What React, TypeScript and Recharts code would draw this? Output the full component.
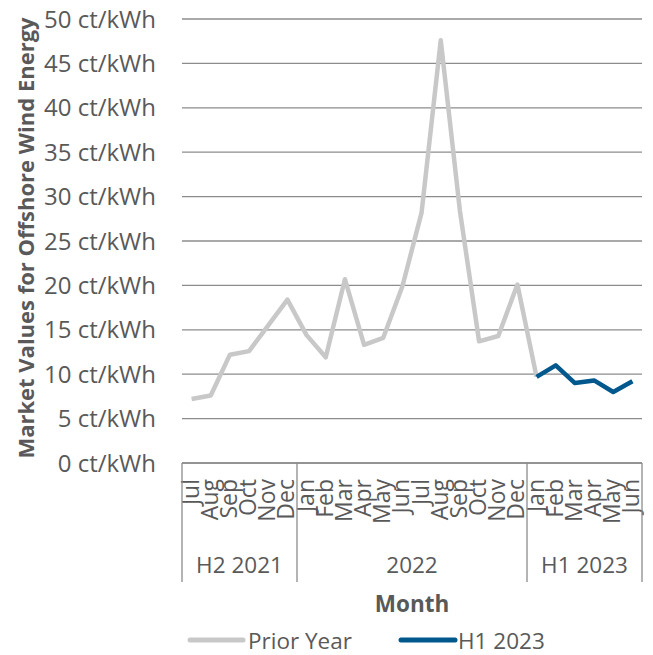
import React from 'react';
import { LineChart, Line, XAxis, YAxis, CartesianGrid, Legend } from 'recharts';

const months = [
  'Jul', 'Aug', 'Sep', 'Oct', 'Nov', 'Dec',
  'Jan', 'Feb', 'Mar', 'Apr', 'May', 'Jun', 'Jul', 'Aug', 'Sep', 'Oct', 'Nov', 'Dec',
  'Jan', 'Feb', 'Mar', 'Apr', 'May', 'Jun',
];
const groupLabels = ['H2 2021', '2022', 'H1 2023'];
const groupSizes = [6, 12, 6];

// ct/kWh
const priorYear = [
  7.2, 7.6, 12.2, 12.6, 15.5, 18.4,
  14.4, 11.9, 20.7, 13.3, 14.1, 19.9, 28.2, 47.6, 28.4, 13.7, 14.3, 20.1,
  9.7, null, null, null, null, null,
];
const h1Year = [
  null, null, null, null, null, null,
  null, null, null, null, null, null, null, null, null, null, null, null,
  9.7, 11.0, 9.0, 9.3, 8.0, 9.2,
];
const yTicks = [0, 5, 10, 15, 20, 25, 30, 35, 40, 45, 50];

const groupOf: number[] = [];
const groupStart: number[] = [];
groupSizes.forEach((n, g) => {
  groupStart.push(groupOf.length);
  for (let k = 0; k < n; k++) groupOf.push(g);
});

const data = months.map((m, i) => ({
  key: `${groupLabels[groupOf[i]]}-${m}`,
  month: m,
  prior: priorYear[i],
  h1: h1Year[i],
}));

const FONT = '"Open Sans", sans-serif';
const TEXT = '#595959';
const GRID = '#8c8c8c';
const GRAY = '#c8c8c8';
const BLUE = '#01588d';

const W = 645;
const H = 655;
const PLOT_W = 460;
const BAND = PLOT_W / months.length;

const MonthTick = (props: any) => {
  const { x, y, index } = props;
  const half = BAND / 2;
  const g = groupOf[index];
  const isStart = groupStart[g] === index;
  const isLast = index === months.length - 1;
  return (
    <g>
      <g transform={`translate(${x + 7},${y + 16}) rotate(-90)`}>
        <text textAnchor="end" fill={TEXT} fontSize={23} fontFamily={FONT}>
          {months[index]}
        </text>
      </g>
      {isStart && (
        <>
          <line x1={x - half} x2={x - half} y1={y} y2={y + 119} stroke={GRID} strokeWidth={1.3} />
          <text
            x={x - half + (groupSizes[g] * BAND) / 2}
            y={y + 101}
            textAnchor="middle"
            dominantBaseline="central"
            fill={TEXT}
            fontSize={22.5}
            fontFamily={FONT}
          >
            {groupLabels[g]}
          </text>
        </>
      )}
      {isLast && <line x1={x + half} x2={x + half} y1={y} y2={y + 119} stroke={GRID} strokeWidth={1.3} />}
    </g>
  );
};

const YTitle = () => (
  <text
    transform="translate(17,238) rotate(-90)"
    textAnchor="middle"
    dominantBaseline="central"
    fill={TEXT}
    fontSize={22}
    fontWeight="bold"
    fontFamily={FONT}
  >
    Market Values for Offshore Wind Energy
  </text>
);

const LegendContent = () => (
  <svg width={W} height={30}>
    <line x1={182} x2={235} y1={15} y2={15} stroke={GRAY} strokeWidth={5} strokeLinecap="round" />
    <text x={240} y={15} dominantBaseline="central" fill={TEXT} fontSize={22.5} fontFamily={FONT}>
      Prior Year
    </text>
    <line x1={393} x2={447} y1={15} y2={15} stroke={BLUE} strokeWidth={5} strokeLinecap="round" />
    <text x={450} y={15} dominantBaseline="central" fill={TEXT} fontSize={22.5} fontFamily={FONT}>
      H1 2023
    </text>
  </svg>
);

export default function App() {
  return (
    <div style={{ width: W, height: H, marginTop: -8, fontFamily: FONT }}>
      <LineChart width={W} height={H} data={data} margin={{ top: 19, right: 11, left: 0, bottom: 0 }}>
        <CartesianGrid vertical={false} stroke={GRID} strokeWidth={1.3} />
        <XAxis
          dataKey="key"
          interval={0}
          height={162}
          padding={{ left: BAND / 2, right: BAND / 2 }}
          tickLine={false}
          tickSize={0}
          tickMargin={0}
          axisLine={{ stroke: GRID, strokeWidth: 1.3 }}
          tick={<MonthTick />}
          label={{
            value: 'Month',
            position: 'insideBottom',
            offset: 13,
            fill: TEXT,
            fontSize: 22.5,
            fontWeight: 'bold',
            fontFamily: FONT,
          }}
        />
        <YAxis
          width={174}
          domain={[0, 50]}
          ticks={yTicks}
          axisLine={false}
          tickLine={false}
          tickMargin={20}
          tickFormatter={(v: number) => `${v} ct/kWh`}
          tick={{ fill: TEXT, fontSize: 24, fontFamily: FONT }}
          label={<YTitle />}
        />
        <Legend verticalAlign="bottom" height={30} content={<LegendContent />} wrapperStyle={{ left: 0, width: W }} />
        <Line
          dataKey="prior"
          name="Prior Year"
          stroke={GRAY}
          strokeWidth={4.5}
          dot={false}
          strokeLinejoin="round"
          isAnimationActive={false}
        />
        <Line
          dataKey="h1"
          name="H1 2023"
          stroke={BLUE}
          strokeWidth={4.5}
          dot={false}
          strokeLinejoin="round"
          isAnimationActive={false}
        />
      </LineChart>
    </div>
  );
}
